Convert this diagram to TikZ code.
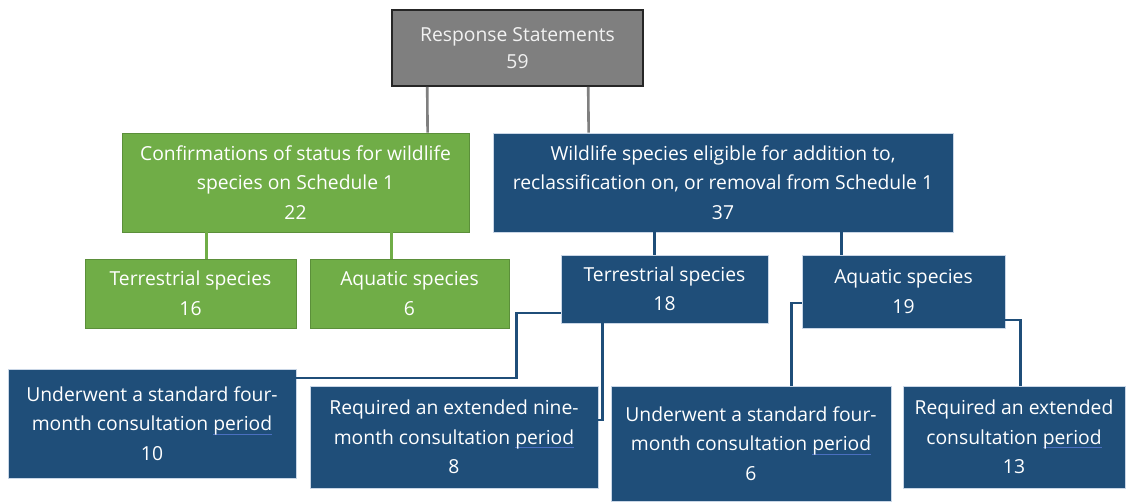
\documentclass[tikz,border=0pt]{standalone}
\usepackage{fontspec}
\usepackage{xcolor}
\usepackage{tikz}
\usetikzlibrary{positioning, calc}

\newfontfamily\boxfont{Open Sans}

\definecolor{boxgray}{HTML}{7F7F7F}
\definecolor{boxgreen}{HTML}{70AD47}
\definecolor{edgegreen}{HTML}{5B8F3A}
\definecolor{boxblue}{HTML}{1F4E79}
\definecolor{edgeblue}{HTML}{C9D6E6}
\definecolor{markblue}{HTML}{4A6FC0}

% blue underline under a word
\newcommand\spellmark[1]{\setbox0\hbox{#1}\rlap{\color{markblue}\rule[-4pt]{\wd0}{1.2pt}}#1}

\tikzset{
  box/.style={rectangle, text=white, align=center, inner sep=0pt,
    font={\boxfont\fontsize{19.3}{29.5}\selectfont}},
  graybox/.style={box, fill=boxgray, draw=black!85, line width=1.6pt, text=white!95!black,
    font={\boxfont\fontsize{19.3}{27}\selectfont}},
  greenbox/.style={box, fill=boxgreen, draw=edgegreen, line width=0.8pt},
  bluebox/.style={box, fill=boxblue, draw=edgeblue, line width=0.7pt},
  grayline/.style={draw=boxgray, line width=2.6pt},
  greenline/.style={draw=boxgreen, line width=2.6pt},
  blueline/.style={draw=boxblue, line width=2.6pt},
}

\begin{document}
\begin{tikzpicture}[x=1pt, y=-1pt]
  \fill[white] (0,0) rectangle (1127,501);

  % top of the tree
  \node[graybox, minimum width=251pt, minimum height=76pt] (total) at (517.5,48) {Response Statements\\59};

  % second level
  \node[greenbox, minimum width=347pt, minimum height=99pt] (confirm) at (295.5,182.5)
    {Confirmations of status for wildlife\\species on Schedule 1\\22};
  \node[bluebox, minimum width=460pt, minimum height=99pt] (eligible) at (723,182.5)
    {Wildlife species eligible for addition to,\\reclassification on, or removal from Schedule 1\\37};

  % third level
  \node[greenbox, minimum width=211pt, minimum height=69pt] (confterr) at (190.5,293.5) {Terrestrial species\\16};
  \node[greenbox, minimum width=199pt, minimum height=69pt] (confaqua) at (409.5,293.5) {Aquatic species\\6};
  \node[bluebox, minimum width=207pt, minimum height=68pt] (eligterr) at (664.5,289) {Terrestrial species\\18};
  \node[bluebox, minimum width=203pt, minimum height=73pt] (eligaqua) at (903.5,291.5) {Aquatic species\\19};

  % consultation periods
  \node[bluebox, minimum width=288pt, minimum height=109pt] (terrstd) at (152,423.5)
    {Underwent a standard four-\\month consultation \spellmark{period}\\10};
  \node[bluebox, minimum width=288pt, minimum height=102pt] (terrext) at (454,437)
    {Required an extended nine-\\month consultation \spellmark{period}\\8};
  \node[bluebox, minimum width=280pt, minimum height=115pt] (aquastd) at (751,443.5)
    {Underwent a standard four-\\month consultation \spellmark{period}\\6};
  \node[bluebox, minimum width=222pt, minimum height=102pt] (aquaext) at (1014,437)
    {Required an extended\\consultation \spellmark{period}\\13};

  % connectors
  \draw[grayline] ([xshift=36pt]total.south west) -- ([xshift=306pt]confirm.north west);
  \draw[grayline] ([xshift=197pt]total.south west) -- ([xshift=96pt]eligible.north west);

  \draw[greenline] ([xshift=85pt]confirm.south west) -- ([xshift=122pt]confterr.north west);
  \draw[greenline] ([xshift=270pt]confirm.south west) -- ([xshift=82pt]confaqua.north west);

  \draw[blueline] ([xshift=162pt]eligible.south west) -- ([xshift=94pt]eligterr.north west);
  \draw[blueline] ([xshift=349pt]eligible.south west) -- ([xshift=40pt]eligaqua.north west);

  \draw[blueline] ([yshift=-24pt]eligterr.west) -- ++(-44pt,0pt) |- ([yshift=45.5pt]terrstd.east);
  \draw[blueline] ([xshift=42pt]eligterr.south west) |- ([yshift=17pt]terrext.east);
  \draw[blueline] ([yshift=-11.5pt]eligaqua.west) -| ([xshift=181pt]aquastd.north west);
  \draw[blueline] ([yshift=-28.5pt]eligaqua.east) -| ([xshift=118pt]aquaext.north west);
\end{tikzpicture}
\end{document}
